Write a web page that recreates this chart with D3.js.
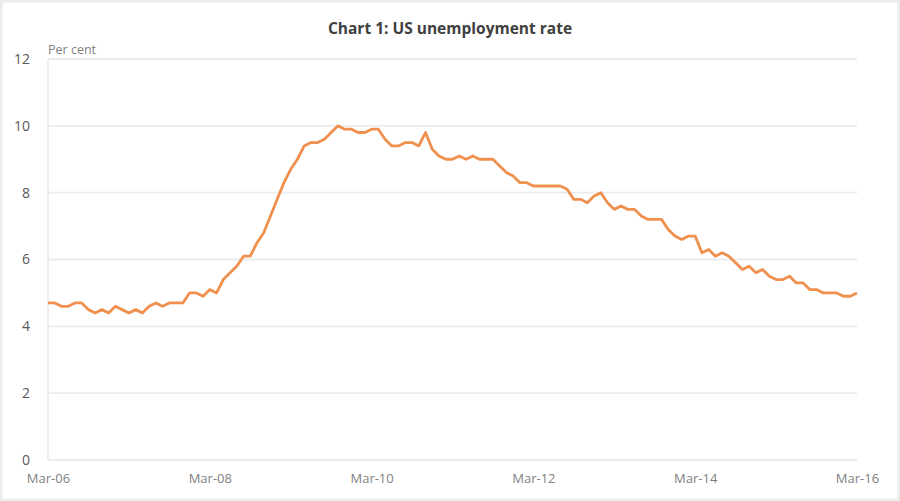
<!DOCTYPE html>
<html>
<head>
<meta charset="utf-8">
<script src="https://cdn.jsdelivr.net/npm/d3@7"></script>
<style>
  html, body { margin: 0; padding: 0; background: #fff; }
  svg { display: block; }
</style>
</head>
<body>
<svg id="chart" width="900" height="501"></svg>
<script>
// ---- Data ----
const title = "Chart 1: US unemployment rate";
const unitLabel = "Per cent";
const startMonth = "2006-03"; // first category (Mar-06), monthly to Mar-16
const values = [
  // 2006 Mar-Dec
  4.7, 4.7, 4.6, 4.6, 4.7, 4.7, 4.5, 4.4, 4.5, 4.4,
  // 2007
  4.6, 4.5, 4.4, 4.5, 4.4, 4.6, 4.7, 4.6, 4.7, 4.7, 4.7, 5.0,
  // 2008
  5.0, 4.9, 5.1, 5.0, 5.4, 5.6, 5.8, 6.1, 6.1, 6.5, 6.8, 7.3,
  // 2009
  7.8, 8.3, 8.7, 9.0, 9.4, 9.5, 9.5, 9.6, 9.8, 10.0, 9.9, 9.9,
  // 2010
  9.8, 9.8, 9.9, 9.9, 9.6, 9.4, 9.4, 9.5, 9.5, 9.4, 9.8, 9.3,
  // 2011
  9.1, 9.0, 9.0, 9.1, 9.0, 9.1, 9.0, 9.0, 9.0, 8.8, 8.6, 8.5,
  // 2012
  8.3, 8.3, 8.2, 8.2, 8.2, 8.2, 8.2, 8.1, 7.8, 7.8, 7.7, 7.9,
  // 2013
  8.0, 7.7, 7.5, 7.6, 7.5, 7.5, 7.3, 7.2, 7.2, 7.2, 6.9, 6.7,
  // 2014
  6.6, 6.7, 6.7, 6.2, 6.3, 6.1, 6.2, 6.1, 5.9, 5.7, 5.8, 5.6,
  // 2015
  5.7, 5.5, 5.4, 5.4, 5.5, 5.3, 5.3, 5.1, 5.1, 5.0, 5.0, 5.0,
  // 2016 Jan-Mar
  4.9, 4.9, 5.0
];
const yTicks = [0, 2, 4, 6, 8, 10, 12];
const xTickLabels = ["Mar-06", "Mar-08", "Mar-10", "Mar-12", "Mar-14", "Mar-16"];

// categories (monthly labels)
const fmt = d3.timeFormat("%b-%y");
const start = d3.timeParse("%Y-%m")(startMonth);
const categories = values.map((v, i) => fmt(d3.timeMonth.offset(start, i)));

// ---- Layout ----
const W = 900, H = 501;
const plot = { left: 48, right: 857, top: 59, bottom: 460 };
const font = "Open Sans, Liberation Sans, sans-serif";

const svg = d3.select("#chart");

// outer frame
svg.append("rect")
  .attr("x", 1).attr("y", 1).attr("width", W - 2).attr("height", H - 2)
  .attr("fill", "#fff").attr("stroke", "#ececec").attr("stroke-width", 3);

const x = d3.scalePoint().domain(categories).range([plot.left, plot.right]);
const y = d3.scaleLinear().domain([0, 12]).range([plot.bottom, plot.top]);

// gridlines
svg.append("g").selectAll("line").data(yTicks).join("line")
  .attr("x1", plot.left).attr("x2", plot.right)
  .attr("y1", d => y(d)).attr("y2", d => y(d))
  .attr("stroke", "#ececec").attr("stroke-width", 1.8);

// left vertical axis line
svg.append("line")
  .attr("x1", plot.left).attr("x2", plot.left)
  .attr("y1", plot.top).attr("y2", plot.bottom)
  .attr("stroke", "#ececec").attr("stroke-width", 1.8);

// y axis
const yAxis = d3.axisLeft(y).tickValues(yTicks).tickSize(0).tickPadding(0);
const yG = svg.append("g").attr("transform", "translate(30,0)").call(yAxis);
yG.select(".domain").remove();
yG.selectAll("text")
  .attr("fill", "#595959")
  .style("font-family", font)
  .style("font-size", "14px");

// x axis
const xAxis = d3.axisBottom(x).tickValues(xTickLabels).tickSize(0).tickPadding(0);
const xG = svg.append("g").attr("transform", `translate(0,${plot.bottom + 14})`).call(xAxis);
xG.select(".domain").remove();
xG.selectAll("text")
  .attr("fill", "#7f7f7f")
  .style("font-family", font)
  .style("font-size", "13px");

// title
svg.append("text")
  .attr("x", 450).attr("y", 34)
  .attr("text-anchor", "middle")
  .attr("fill", "#404040")
  .style("font-family", font)
  .style("font-weight", "bold")
  .style("font-size", "15.5px")
  .text(title);

// unit label
svg.append("text")
  .attr("x", plot.left).attr("y", 54)
  .attr("fill", "#7f7f7f")
  .style("font-family", font)
  .style("font-size", "12.5px")
  .text(unitLabel);

// line
const line = d3.line()
  .x((d, i) => x(categories[i]))
  .y(d => y(d));

svg.append("path")
  .datum(values)
  .attr("fill", "none")
  .attr("stroke", "#f0904f")
  .attr("stroke-width", 2.8)
  .attr("stroke-linejoin", "round")
  .attr("d", line);
</script>
</body>
</html>
